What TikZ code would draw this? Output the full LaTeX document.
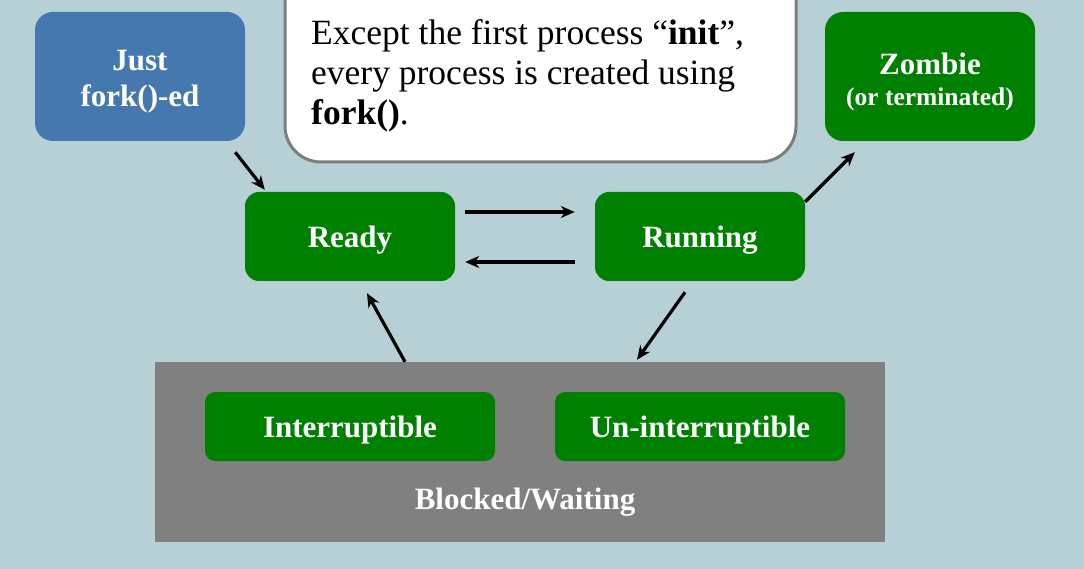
\documentclass[tikz,border=0pt]{standalone}
\usepackage{fontspec}
\setmainfont{Liberation Serif}
\usetikzlibrary{calc,arrows.meta}
\definecolor{bg}{RGB}{183,208,214}
\definecolor{grn}{RGB}{0,128,0}
\definecolor{blu}{RGB}{70,120,176}
\definecolor{gry}{RGB}{128,128,128}
\definecolor{edgegray}{RGB}{125,125,125}
\begin{document}
\begin{tikzpicture}[x=1pt,y=-1pt,
  box/.style={rectangle, rounded corners=14pt, fill=grn, text=white, align=center, inner sep=0pt,
    font=\bfseries\fontsize{31}{36}\selectfont},
  bigbox/.style={box, rounded corners=18pt, minimum width=210pt, minimum height=129pt},
  onel/.style={text height=22pt, text depth=0pt},
  statebox/.style={box, onel, minimum width=210pt, minimum height=89pt},
  subbox/.style={box, onel, rounded corners=10pt, minimum width=290pt, minimum height=69pt},
  arr/.style={-{Stealth[length=14pt,width=12pt]}, line width=3.2pt, black}]
\fill[bg] (0,0) rectangle (1084,569);
\useasboundingbox (0,0) rectangle (1084,569);

% callout
\node[rectangle, draw=edgegray, line width=3pt, fill=white, rounded corners=36pt,
  minimum width=511pt, minimum height=222pt, inner sep=0pt] (callout) at (540.5,51) {};
\node[anchor=west, align=left, inner sep=0pt, font=\fontsize{35.5}{40}\selectfont] (calltext) at (311,76)
  {Except the first process ``\textbf{init}'',\\every process is created using\\\textbf{fork()}.};

% top boxes
\node[bigbox, fill=blu] (fork) at (140,76.5)
  {\raisebox{-11.75pt}[0pt][0pt]{\parbox{200pt}{\centering Just\\fork()-ed}}};
\node[bigbox] (zombie) at (930,76.5)
  {\raisebox{-11.5pt}[0pt][0pt]{\parbox{200pt}{\centering Zombie\\[-5pt]{\fontsize{25.5}{28}\selectfont (or terminated)}}}};

% states
\node[statebox] (ready) at (350,236.5) {Ready};
\node[statebox] (running) at (700,236.5) {Running};

% blocked group
\node[rectangle, fill=gry, minimum width=730pt, minimum height=180pt, inner sep=0pt] (blocked) at (520,452) {};
\node[subbox] (intr) at (350,426.5) {Interruptible};
\node[subbox] (unintr) at (700,426.5) {Un-interruptible};
\node[text=white, inner sep=0pt, onel, font=\bfseries\fontsize{31}{36}\selectfont] (blabel) at (525,498) {Blocked/Waiting};

% arrows
\draw[arr] ($(fork.south east)+(-10,11)$) -- ($(ready.north west)+(20,-2)$);
\draw[arr] ($(ready.east)+(10,-24.5)$) -- ($(running.west)+(-20,-24.5)$);
\draw[arr] ($(running.west)+(-20,25.5)$) -- ($(ready.east)+(10,25.5)$);
\draw[arr] ($(running.north east)+(0,10)$) -- ($(zombie.south west)+(30,11)$);
\draw[arr] ($(running.south)+(-15,11)$) -- ($(blocked.north)+(117,-2)$);
\draw[arr] ($(blocked.north)+(-115,0)$) -- ($(ready.south)+(17,12)$);
\end{tikzpicture}
\end{document}
